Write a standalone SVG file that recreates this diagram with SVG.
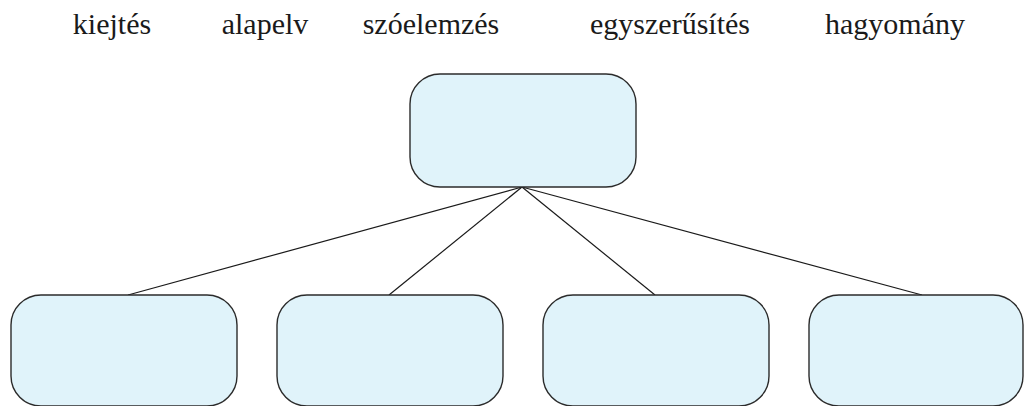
<svg xmlns="http://www.w3.org/2000/svg" width="1025" height="406" viewBox="0 0 1025 406">
<style>
.box{fill:#e0f3fa;stroke:#2b2b2b;stroke-width:1.4}
.lbl{font-family:"Liberation Serif","DejaVu Serif",serif;font-size:30px;fill:#1a1a1a;text-anchor:middle}
.conn{stroke:#1a1a1a;stroke-width:1.2;fill:none}
</style>
<rect width="1025" height="406" fill="#ffffff"/>
<g id="words">
<text class="lbl" x="112" y="34">kiejtés</text>
<text class="lbl" x="265" y="34">alapelv</text>
<text class="lbl" x="431" y="34">szóelemzés</text>
<text class="lbl" x="670" y="34">egyszerűsítés</text>
<text class="lbl" x="895" y="34">hagyomány</text>
</g>
<g id="connectors">
<line class="conn" x1="522" y1="187" x2="128" y2="295"/>
<line class="conn" x1="522" y1="187" x2="389" y2="295"/>
<line class="conn" x1="522" y1="187" x2="655" y2="295"/>
<line class="conn" x1="522" y1="187" x2="922" y2="295"/>
</g>
<g id="root"><rect class="box" x="410" y="74" width="226" height="113" rx="30"/></g>
<g id="child1"><rect class="box" x="11" y="295" width="226" height="111" rx="30"/></g>
<g id="child2"><rect class="box" x="277" y="295" width="226" height="111" rx="30"/></g>
<g id="child3"><rect class="box" x="543" y="295" width="226" height="111" rx="30"/></g>
<g id="child4"><rect class="box" x="809" y="295" width="214" height="111" rx="30"/></g>
</svg>
